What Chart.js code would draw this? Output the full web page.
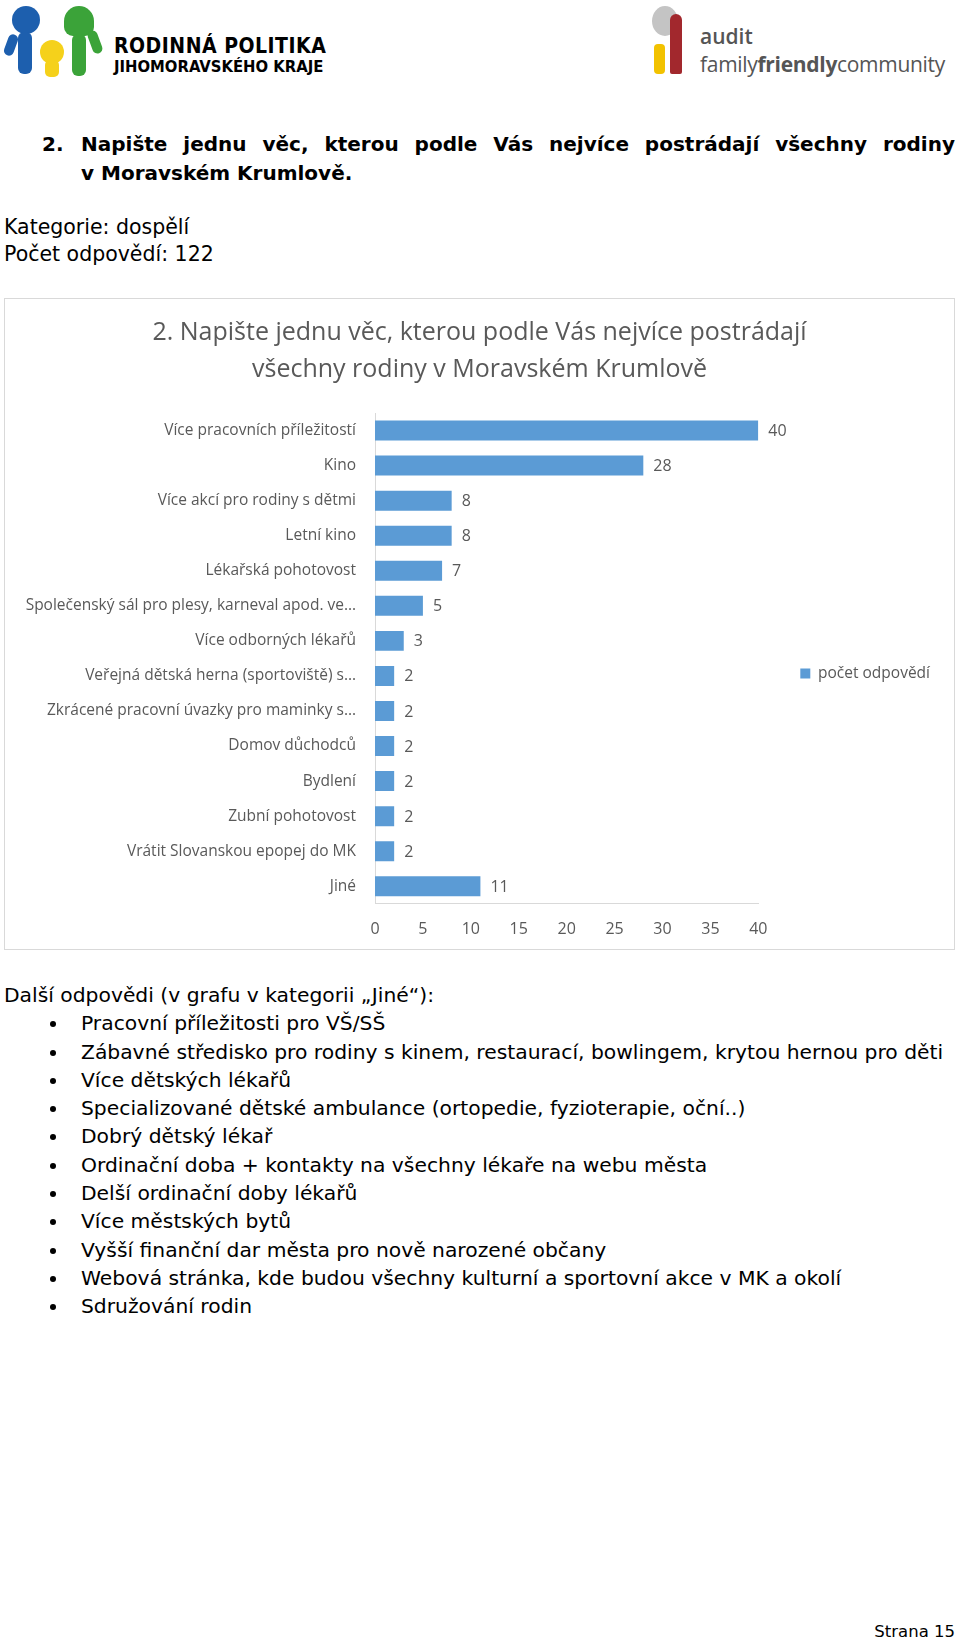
<!DOCTYPE html>
<html lang="cs">
<head>
    <meta charset="UTF-8">
    <title>Rodinná politika - otázka 2</title>
    <script src="https://cdn.jsdelivr.net/npm/chart.js"></script>
    <style>
        html, body { margin: 0; padding: 0; }
        body {
            width: 960px; height: 1645px;
            position: relative; overflow: hidden;
            background: #fff;
            font-family: "DejaVu Sans", sans-serif;
            color: #000;
        }
        .abs { position: absolute; }
        .shape { position: absolute; }

        .logo-l1 { left: 114px; top: 34px; font: 700 21px "Liberation Sans Narrow", "DejaVu Sans Condensed", sans-serif; letter-spacing: 0.5px; }
        .logo-l2 { left: 114px; top: 57px; font: 700 16.5px "Liberation Sans Narrow", "DejaVu Sans Condensed", sans-serif; }
        .logo-r1 { left: 700px; top: 22px; font: 600 21px "Open Sans", sans-serif; color: #555; }
        .logo-r2 { left: 700px; top: 50px; font: 400 21px "Open Sans", sans-serif; color: #555; letter-spacing: -0.3px; }

        .heading, .heading-num {
            font-family: "DejaVu Sans", sans-serif;
            font-weight: bold; font-size: 20px; line-height: 29px;
        }
        .heading { left: 81px; top: 130px; width: 874px; text-align: justify; }
        .heading-num { left: 42px; top: 130px; }
        .meta { left: 4px; top: 214px; font-size: 20.5px; line-height: 27px; }

        #box {
            position: absolute; left: 4px; top: 298px;
            width: 949px; height: 650px;
            border: 1px solid #d9d9d9;
        }
        #wrap { position: absolute; left: 0; top: 0; width: 949px; height: 650px; }

        .other { left: 4px; top: 981px; font-size: 20.3px; line-height: 28.3px; white-space: nowrap; }
        .other ul { margin: 0; padding: 0 0 0 77px; list-style: none; }
        .other li { position: relative; }
        .other li::before {
            content: ""; position: absolute; left: -31px; top: 12px;
            width: 6px; height: 6px; border-radius: 50%; background: #000;
        }
        .footer { right: 5px; top: 1622px; font-size: 16.5px; white-space: nowrap; }
    </style>
</head>
<body>
    <!-- logo vlevo -->
    <div class="shape" style="left:12px;top:6px;width:28px;height:28px;border-radius:50%;background:#1d5fae"></div>
    <div class="shape" style="left:18px;top:32px;width:14px;height:42px;border-radius:6px;background:#1d5fae"></div>
    <div class="shape" style="left:6px;top:34px;width:10px;height:22px;border-radius:5px;background:#1d5fae;transform:rotate(20deg)"></div>
    <div class="shape" style="left:40px;top:40px;width:24px;height:24px;border-radius:50%;background:#f5d11b"></div>
    <div class="shape" style="left:45px;top:60px;width:14px;height:17px;border-radius:5px;background:#f5d11b"></div>
    <div class="shape" style="left:64px;top:6px;width:30px;height:30px;border-radius:50% 50% 30% 30%;background:#3ba339"></div>
    <div class="shape" style="left:72px;top:34px;width:14px;height:42px;border-radius:6px;background:#3ba339"></div>
    <div class="shape" style="left:90px;top:30px;width:10px;height:24px;border-radius:5px;background:#3ba339;transform:rotate(-20deg)"></div>
    <div class="abs logo-l1">RODINNÁ POLITIKA</div>
    <div class="abs logo-l2">JIHOMORAVSKÉHO KRAJE</div>

    <!-- logo vpravo -->
    <div class="shape" style="left:652px;top:6px;width:26px;height:30px;border-radius:50%;background:#c4c4c4"></div>
    <div class="shape" style="left:670px;top:14px;width:12px;height:60px;border-radius:6px 6px 2px 2px;background:#a2282d"></div>
    <div class="shape" style="left:654px;top:44px;width:11px;height:30px;border-radius:4px;background:#f2c200"></div>
    <div class="abs logo-r1">audit</div>
    <div class="abs logo-r2">family<b>friendly</b>community</div>

    <div class="abs heading-num">2.</div>
    <div class="abs heading">Napište jednu věc, kterou podle Vás nejvíce postrádají všechny rodiny v&nbsp;Moravském&nbsp;Krumlově.</div>

    <div class="abs meta">Kategorie: dospělí<br>Počet odpovědí: 122</div>

    <div id="box">
        <div id="wrap"><canvas id="myChart"></canvas></div>
    </div>

    <div class="abs other">
        Další odpovědi (v grafu v kategorii „Jiné“):
        <ul>
            <li>Pracovní příležitosti pro VŠ/SŠ</li>
            <li>Zábavné středisko pro rodiny s kinem, restaurací, bowlingem, krytou hernou pro děti</li>
            <li>Více dětských lékařů</li>
            <li>Specializované dětské ambulance (ortopedie, fyzioterapie, oční..)</li>
            <li>Dobrý dětský lékař</li>
            <li>Ordinační doba + kontakty na všechny lékaře na webu města</li>
            <li>Delší ordinační doby lékařů</li>
            <li>Více městských bytů</li>
            <li>Vyšší finanční dar města pro nově narozené občany</li>
            <li>Webová stránka, kde budou všechny kulturní a sportovní akce v MK a okolí</li>
            <li>Sdružování rodin</li>
        </ul>
    </div>

    <div class="abs footer">Strana 15</div>

    <script>
        // data z grafu
        const chartTitle = ['2. Napište jednu věc, kterou podle Vás nejvíce postrádají', 'všechny rodiny v Moravském Krumlově'];
        const seriesName = 'počet odpovědí';
        const categories = [
            'Více pracovních příležitostí',
            'Kino',
            'Více akcí pro rodiny s dětmi',
            'Letní kino',
            'Lékařská pohotovost',
            'Společenský sál pro plesy, karneval apod. ve…',
            'Více odborných lékařů',
            'Veřejná dětská herna (sportoviště) s…',
            'Zkrácené pracovní úvazky pro maminky s…',
            'Domov důchodců',
            'Bydlení',
            'Zubní pohotovost',
            'Vrátit Slovanskou epopej do MK',
            'Jiné'
        ];
        const values = [40, 28, 8, 8, 7, 5, 3, 2, 2, 2, 2, 2, 2, 11];
        const xTicks = [0, 5, 10, 15, 20, 25, 30, 35, 40];

        const gray = '#595959';
        const font = 'Open Sans';

        // hodnoty za koncem sloupcu
        const barLabels = {
            id: 'barLabels',
            afterDatasetsDraw(chart) {
                const ctx = chart.ctx;
                const meta = chart.getDatasetMeta(0);
                ctx.save();
                ctx.font = '16px "' + font + '"';
                ctx.fillStyle = gray;
                ctx.textAlign = 'left';
                ctx.textBaseline = 'middle';
                meta.data.forEach((bar, i) => {
                    ctx.fillText(values[i], bar.x + 10, bar.y + 1);
                });
                ctx.restore();
            }
        };

        const ctx = document.getElementById('myChart');

        new Chart(ctx, {
            type: 'bar',
            data: {
                labels: categories,
                datasets: [{
                    label: seriesName,
                    data: values,
                    backgroundColor: '#5b9bd5',
                    borderWidth: 0,
                    barPercentage: 0.57,
                    categoryPercentage: 1
                }]
            },
            options: {
                indexAxis: 'y',
                responsive: true,
                maintainAspectRatio: false,
                animation: false,
                layout: { padding: { left: 14, right: 14, top: 0, bottom: -6 } },
                scales: {
                    x: {
                        min: 0,
                        max: 40,
                        afterBuildTicks(scale) {
                            scale.ticks = xTicks.map(v => ({ value: v }));
                        },
                        grid: { display: false, drawTicks: false },
                        border: { display: true, color: '#d9d9d9', width: 1 },
                        ticks: { color: gray, font: { family: font, size: 16 }, padding: 16 }
                    },
                    y: {
                        afterFit(scale) { scale.width = 356; },
                        grid: { display: false, drawTicks: false },
                        border: { display: true, color: '#d9d9d9', width: 1 },
                        ticks: { color: gray, font: { family: font, size: 15.5 }, padding: 19, autoSkip: false }
                    }
                },
                plugins: {
                    title: {
                        display: true,
                        text: chartTitle,
                        color: gray,
                        font: { family: font, size: 25, weight: 'normal', lineHeight: 1.46 },
                        padding: { top: 16, bottom: 25 }
                    },
                    legend: {
                        position: 'right',
                        align: 'center',
                        fullSize: false,
                        title: { display: true, text: ' ', font: { size: 10 }, padding: 9 },
                        labels: {
                            boxWidth: 10,
                            boxHeight: 10,
                            padding: 42,
                            color: gray,
                            font: { family: font, size: 15.5 }
                        }
                    },
                    tooltip: { enabled: false }
                }
            },
            plugins: [barLabels]
        });
    </script>
</body>
</html>
